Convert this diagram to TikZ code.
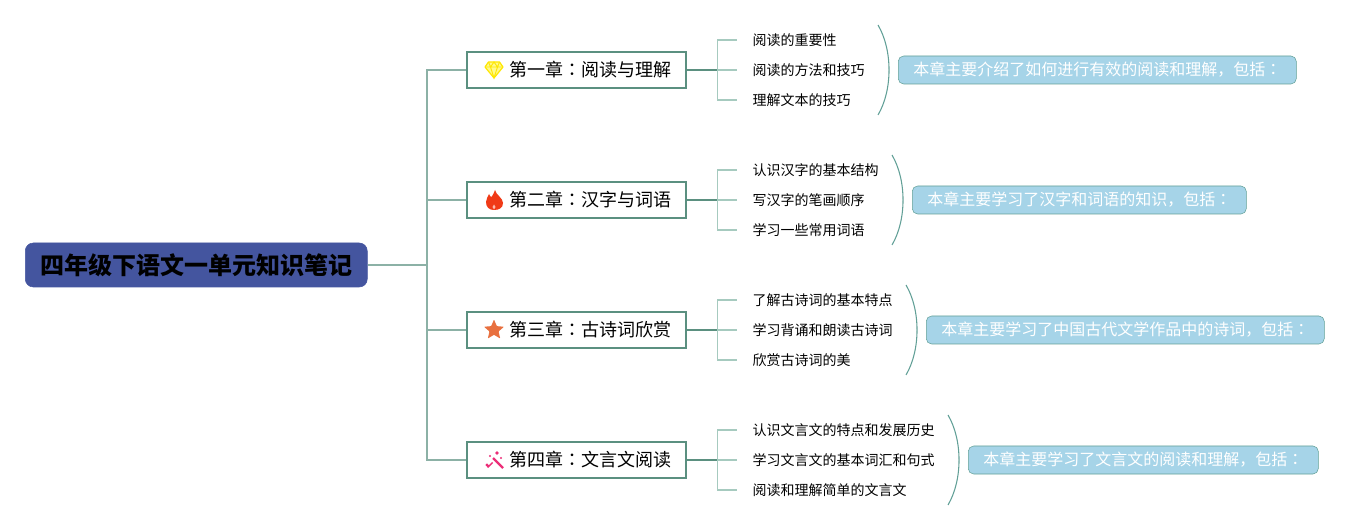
\documentclass[tikz,border=0pt]{standalone}
\usepackage{fontspec}
\setmainfont{Noto Sans CJK SC}
\newfontfamily\colonfont{Noto Sans CJK JP}
\usetikzlibrary{shapes.geometric, positioning}
\newcommand{\pxsize}{0.75pt}
\newcommand{\cnt}{{\colonfont ：}}
\definecolor{rootblue}{HTML}{44559F}
\definecolor{stemgreen}{HTML}{5B9080}
\definecolor{forkgreen}{HTML}{A6CABF}
\definecolor{notefill}{HTML}{A6D4E8}
\definecolor{noteline}{HTML}{62A097}
\definecolor{staricon}{HTML}{E8703F}
\definecolor{flameicon}{HTML}{F03A17}
\definecolor{wandicon}{HTML}{EC2E78}

\begin{document}
\begin{tikzpicture}[x=0.75pt, y=-0.75pt]
  \tikzset{rootbox/.style={draw=rootblue, fill=rootblue, rounded corners=6pt, minimum width=342*\pxsize, minimum height=44*\pxsize, inner sep=0pt, font=\fontsize{18}{20}\selectfont\bfseries}}
  \tikzset{chbox/.style={draw=stemgreen, line width=1.5pt, fill=white, inner xsep=15*\pxsize, inner ysep=0pt, minimum height=36*\pxsize, font=\fontsize{13.5}{16}\selectfont}}
  \tikzset{leaf/.style={inner xsep=15*\pxsize, inner ysep=0pt, minimum height=20*\pxsize, font=\fontsize{10.5}{12}\selectfont}}
  \tikzset{notebox/.style={draw=noteline, fill=notefill, text=white, rounded corners=4pt, inner xsep=15*\pxsize, inner ysep=0pt, minimum height=28*\pxsize, font=\fontsize{12}{14}\selectfont}}
  \tikzset{trunkline/.style={draw=stemgreen!70, line width=1.1pt}}
  \tikzset{stemline/.style={draw=stemgreen, line width=1.5pt}}
  \tikzset{forkline/.style={draw=forkgreen, line width=1.1pt}}
  \tikzset{braceline/.style={draw=noteline, line width=0.8pt}}

  % icons, drawn in px round the middle of the icon
  \tikzset{chicon1/.pic={
    \draw[draw=yellow!90!orange, fill=yellow!45, line width=0.9pt, line join=round] (-5.5,-8) -- (5.5,-8) -- (9,-3) -- (0,8) -- (-9,-3) -- cycle;
    \draw[draw=yellow!90!orange, line width=0.7pt] (-9,-3) -- (9,-3) (-3.5,-3) -- (0,8) -- (3.5,-3) (-5.5,-8) -- (-3.5,-3) -- (0,-8) -- (3.5,-3) -- (5.5,-8);
  }}
  \tikzset{chicon2/.pic={
    \fill[flameicon] (1,-10) .. controls (2,-5) and (9,-2) .. (9,3) .. controls (9,8) and (5,10) .. (0,10) .. controls (-5,10) and (-8,7) .. (-8,2) .. controls (-8,-1) and (-6,-3) .. (-5,-6) .. controls (-4,-4) and (-3.5,-3) .. (-2.5,-3) .. controls (-1,-5) and (0,-7) .. (1,-10) -- cycle;
    \fill[flameicon!35] (0,4.5) .. controls (1.5,6) and (2.5,8) .. (0,9.5) .. controls (-2.5,8) and (-1.5,6) .. (0,4.5) -- cycle;
  }}
  \tikzset{chicon3/.pic={
    \node[star, star points=5, star point ratio=2.2, fill=staricon, inner sep=0pt, minimum size=21*\pxsize, rounded corners=0.5pt] (starshape) at (0,0) {};
  }}
  \tikzset{chicon4/.pic={
    \draw[draw=wandicon, line width=1.6pt] (-1,-2) -- (9,8);
    \fill[wandicon] (3,-7) circle (1.4pt) (-4,-4) circle (0.9pt) (-7,5) circle (1.2pt) (7,-2) circle (0.9pt) (-1,3) -- (-6,8) -- (-7,7) -- (-2,2) -- cycle;
  }}

  \node[rootbox, anchor=west] at (25, 265) (root) {\raisebox{-1pt}{四年级下语文一单元知识笔记}};
  \coordinate (trunk) at (427, 265);
  \draw[trunkline] (root) -- (trunk);

  \foreach \ch/\chlabel/\leafa/\leafb/\leafc/\bracex/\notetext in {
    1/第一章\cnt 阅读与理解/阅读的重要性/阅读的方法和技巧/理解文本的技巧/878/本章主要介绍了如何进行有效的阅读和理解，包括\cnt,
    2/第二章\cnt 汉字与词语/认识汉字的基本结构/写汉字的笔画顺序/学习一些常用词语/892/本章主要学习了汉字和词语的知识，包括\cnt,
    3/第三章\cnt 古诗词欣赏/了解古诗词的基本特点/学习背诵和朗读古诗词/欣赏古诗词的美/906/本章主要学习了中国古代文学作品中的诗词，包括\cnt,
    4/第四章\cnt 文言文阅读/认识文言文的特点和发展历史/学习文言文的基本词汇和句式/阅读和理解简单的文言文/948/本章主要学习了文言文的阅读和理解，包括\cnt}{
    \pgfmathsetmacro\chy{70 + 130*(\ch - 1)}

    % chapter box and its icon
    \node[chbox, anchor=west] at (466, \chy) (ch\ch) {\hspace{20.5pt}\raisebox{-0.9pt}{\chlabel}};
    \draw[trunkline] (trunk) |- (ch\ch.west);
    \pic at (494, \chy) {chicon\ch};

    % three leaves
    \coordinate[right=30*\pxsize of ch\ch] (ch\ch-fork);
    \draw[forkline] (ch\ch-fork) -- ++(20, 0) coordinate (ch\ch-mid);
    \foreach \lf/\lftext/\lfshift in {1/\leafa/-30, 2/\leafb/0, 3/\leafc/30}{
      \node[leaf, anchor=west] at ([yshift=-\lfshift*\pxsize]ch\ch-mid) (ch\ch-leaf\lf) {\raisebox{-1pt}{\lftext}};
      \draw[forkline] (ch\ch-fork) |- (ch\ch-leaf\lf.west);
    }
    \draw[stemline] (ch\ch) -- (ch\ch-fork);

    % brace and note
    \coordinate (brace\ch-top) at (\bracex, \chy - 45);
    \coordinate (brace\ch-bot) at (\bracex, \chy + 45);
    \coordinate (brace\ch-mid) at (\bracex + 11, \chy);
    \draw[braceline] (brace\ch-top) .. controls +(14.7, 25) and +(14.7, -25) .. (brace\ch-bot);
    \node[notebox, right=9*\pxsize of brace\ch-mid] (note\ch) {\raisebox{-0.5pt}{\notetext}};
  }

  \useasboundingbox (0, 0) rectangle (1370, 530);
\end{tikzpicture}
\end{document}
